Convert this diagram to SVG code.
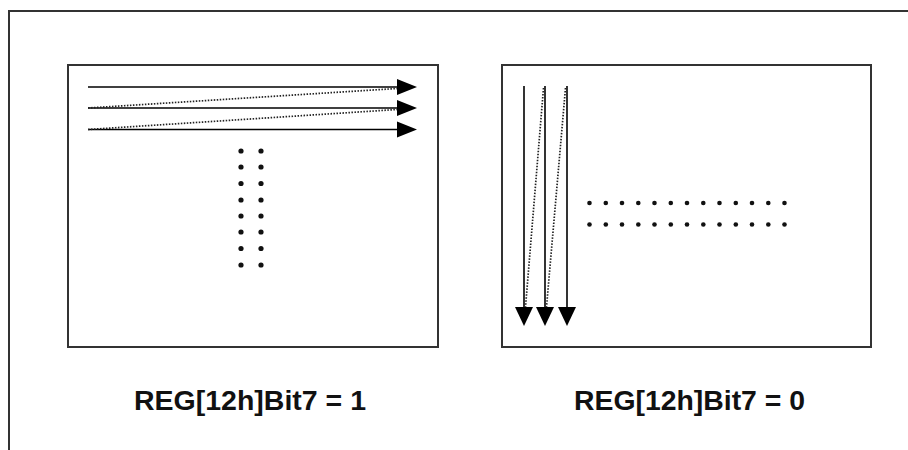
<svg xmlns="http://www.w3.org/2000/svg" width="908" height="450" viewBox="0 0 908 450">
<style>
.frame{fill:none;stroke:#333;stroke-width:2}
.box{fill:#fff;stroke:#333;stroke-width:2}
.ln{stroke:#000;stroke-width:1.6;fill:none}
.dot{stroke:#222;stroke-width:1.7;stroke-dasharray:1.5 1.5;fill:none}
.head{fill:#000}
.pt{fill:#111}
.lbl{font-family:"Liberation Sans",Arial,sans-serif;font-weight:bold;font-size:27px;fill:#111}
</style>
<rect width="908" height="450" fill="#fff"/>
<rect class="frame" x="9" y="11" width="910" height="460"/>
<g id="panel-left">
  <rect class="box" x="68" y="65" width="370" height="282"/>
  <text class="lbl" x="134" y="410" textLength="232" lengthAdjust="spacingAndGlyphs">REG[12h]Bit7 = 1</text>
</g>
<g id="panel-right">
  <rect class="box" x="502" y="65" width="369" height="282"/>
  <text class="lbl" x="574" y="410" textLength="231" lengthAdjust="spacingAndGlyphs">REG[12h]Bit7 = 0</text>
</g>
<g id="dots-left">
  <g class="pt">
    <circle cx="241" cy="151" r="2.6"/><circle cx="261" cy="151" r="2.6"/>
    <circle cx="241" cy="167" r="2.6"/><circle cx="261" cy="167" r="2.6"/>
    <circle cx="241" cy="183.5" r="2.6"/><circle cx="261" cy="183.5" r="2.6"/>
    <circle cx="241" cy="200" r="2.6"/><circle cx="261" cy="200" r="2.6"/>
    <circle cx="241" cy="216" r="2.6"/><circle cx="261" cy="216" r="2.6"/>
    <circle cx="241" cy="232" r="2.6"/><circle cx="261" cy="232" r="2.6"/>
    <circle cx="241" cy="248.5" r="2.6"/><circle cx="261" cy="248.5" r="2.6"/>
    <circle cx="241" cy="265" r="2.6"/><circle cx="261" cy="265" r="2.6"/>
  </g>
</g>
<g id="dots-right" class="pt">
  <circle cx="589.5" cy="203" r="2.3"/><circle cx="605.8" cy="203" r="2.3"/><circle cx="622" cy="203" r="2.3"/><circle cx="638.3" cy="203" r="2.3"/><circle cx="654.5" cy="203" r="2.3"/><circle cx="670.8" cy="203" r="2.3"/><circle cx="687" cy="203" r="2.3"/><circle cx="703.3" cy="203" r="2.3"/><circle cx="719.5" cy="203" r="2.3"/><circle cx="735.8" cy="203" r="2.3"/><circle cx="752" cy="203" r="2.3"/><circle cx="768.3" cy="203" r="2.3"/><circle cx="784.5" cy="203" r="2.3"/>
  <circle cx="589.5" cy="224.5" r="2.3"/><circle cx="605.8" cy="224.5" r="2.3"/><circle cx="622" cy="224.5" r="2.3"/><circle cx="638.3" cy="224.5" r="2.3"/><circle cx="654.5" cy="224.5" r="2.3"/><circle cx="670.8" cy="224.5" r="2.3"/><circle cx="687" cy="224.5" r="2.3"/><circle cx="703.3" cy="224.5" r="2.3"/><circle cx="719.5" cy="224.5" r="2.3"/><circle cx="735.8" cy="224.5" r="2.3"/><circle cx="752" cy="224.5" r="2.3"/><circle cx="768.3" cy="224.5" r="2.3"/><circle cx="784.5" cy="224.5" r="2.3"/>
</g>
<g id="connectors">
  <line class="ln" x1="88" y1="87" x2="399" y2="87"/>
  <polygon class="head" points="397,79 417,87 397,95"/>
  <line class="ln" x1="88" y1="108" x2="399" y2="108"/>
  <polygon class="head" points="397,100 417,108 397,116"/>
  <line class="ln" x1="88" y1="129.5" x2="399" y2="129.5"/>
  <polygon class="head" points="397,121.5 417,129.5 397,137.5"/>
  <line class="dot" x1="88" y1="108" x2="397" y2="88.5"/>
  <line class="dot" x1="88" y1="129.5" x2="397" y2="109.5"/>

  <line class="ln" x1="524" y1="86" x2="524" y2="309"/>
  <polygon class="head" points="515,307 533,307 524,326"/>
  <line class="ln" x1="545" y1="86" x2="545" y2="309"/>
  <polygon class="head" points="536,307 554,307 545,326"/>
  <line class="ln" x1="567" y1="86" x2="567" y2="309"/>
  <polygon class="head" points="558,307 576,307 567,326"/>
  <line class="dot" x1="543.5" y1="88" x2="525.5" y2="307"/>
  <line class="dot" x1="565.5" y1="88" x2="546.5" y2="307"/>
</g>
</svg>
